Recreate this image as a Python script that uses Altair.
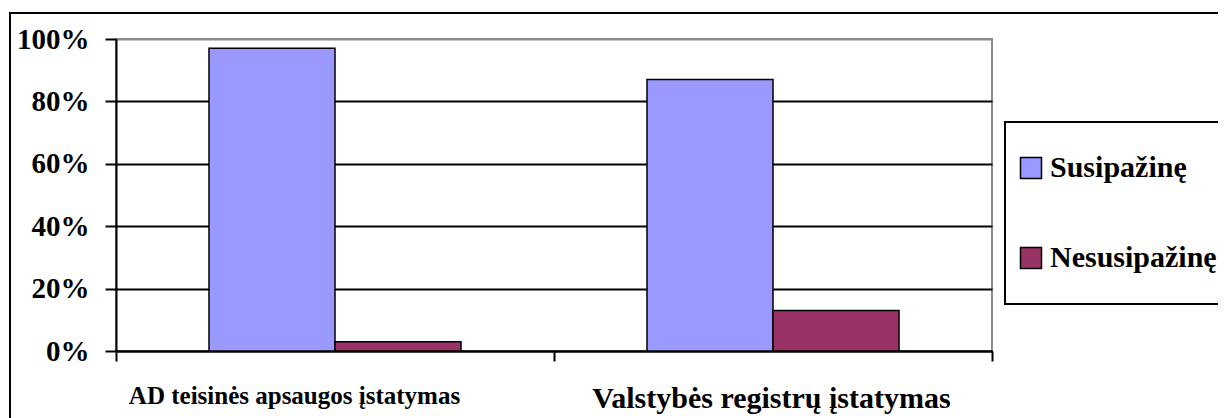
import altair as alt
import pandas as pd

categories = ["AD teisinės apsaugos įstatymas", "Valstybės registrų įstatymas"]
series = ["Susipažinę", "Nesusipažinę"]
susipazine = [97, 87]
nesusipazine = [3, 13]
colors = ["#9999FF", "#993366"]
y_ticks = [0, 20, 40, 60, 80, 100]

rows = []
for i, c in enumerate(categories):
    rows.append({"kategorija": c, "grupe": series[0], "reiksme": susipazine[i]})
    rows.append({"kategorija": c, "grupe": series[1], "reiksme": nesusipazine[i]})
df = pd.DataFrame(rows)

FONT = "Liberation Serif"
W, H = 876, 312

bars = alt.Chart(df).mark_bar(stroke="black", strokeWidth=1.5).encode(
    x=alt.X(
        "kategorija:N",
        sort=categories,
        title=None,
        scale=alt.Scale(paddingInner=0, paddingOuter=0),
        axis=alt.Axis(
            labelAngle=0,
            tickBand="extent",
            tickSize=10,
            tickColor="black",
            tickWidth=2,
            domainColor="black",
            domainWidth=2,
            labelFont=FONT,
            labelFontWeight="bold",
            labelColor="black",
            labelFontSize={
                "condition": {"test": "datum.value == 'AD teisinės apsaugos įstatymas'", "value": 25},
                "value": 30,
            },
            labelOffset={
                "condition": {"test": "datum.value == 'AD teisinės apsaugos įstatymas'", "value": -41},
                "value": -2,
            },
            labelPadding=22,
            labelLimit=600,
            grid=False,
        ),
    ),
    xOffset=alt.XOffset(
        "grupe:N",
        sort=series,
        scale=alt.Scale(paddingInner=0, paddingOuter=0.738),
    ),
    y=alt.Y(
        "reiksme:Q",
        title=None,
        scale=alt.Scale(domain=[0, 100], nice=False),
        axis=alt.Axis(
            values=y_ticks,
            labelExpr="datum.value + '%'",
            tickSize=11,
            tickColor="black",
            tickWidth=2,
            domainColor="black",
            domainWidth=2,
            labelFont=FONT,
            labelFontWeight="bold",
            labelFontSize=29,
            labelColor="black",
            labelPadding=16,
            grid=True,
            gridColor={
                "condition": {"test": "datum.value == 100", "value": "#8c8c8c"},
                "value": "black",
            },
            gridWidth=2,
        ),
    ),
    fill=alt.Fill(
        "grupe:N",
        sort=series,
        scale=alt.Scale(domain=series, range=colors),
        legend=alt.Legend(
            title=None,
            orient="none",
            legendX=900,
            legendY=114,
            padding=0,
            symbolType="square",
            symbolSize=441,
            symbolStrokeColor="black",
            symbolStrokeWidth=1.5,
            labelFont=FONT,
            labelFontWeight="bold",
            labelFontSize=30,
            labelColor="black",
            labelOffset=4,
            labelLimit=400,
            rowPadding=60,
        ),
    ),
)

frame_data = pd.DataFrame({"k": [0]})
outer_frame = alt.Chart(frame_data).mark_rect(
    fill=None, stroke="black", strokeWidth=2
).encode(
    x=alt.value(-106), x2=alt.value(1130), y=alt.value(-26), y2=alt.value(420)
)
legend_box = alt.Chart(frame_data).mark_rect(
    fill="white", stroke="black", strokeWidth=2
).encode(
    x=alt.value(889), x2=alt.value(1130), y=alt.value(83), y2=alt.value(265)
)

chart = alt.layer(outer_frame, legend_box, bars).properties(
    width=W,
    height=H,
    autosize=alt.AutoSizeParams(type="none"),
    padding={"left": 108, "top": 31, "right": 226, "bottom": 67},
    background="white",
).configure(font=FONT).configure_view(stroke="#8c8c8c", strokeWidth=2)

chart.save("out.html", embed_options={"renderer": "svg", "actions": False})
